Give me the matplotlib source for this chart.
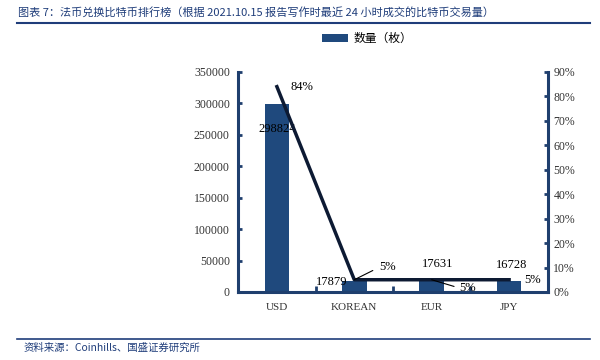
import matplotlib
matplotlib.use('Agg')
import matplotlib.pyplot as plt
import numpy as np

plt.rcParams['font.family'] = ['Liberation Serif', 'Noto Sans CJK SC', 'DejaVu Sans']

# data
categories = ['USD', 'KOREAN', 'EUR', 'JPY']
volumes = [298824, 17879, 17631, 16728]
shares = [84, 5, 5, 5]   # percent
vol_ticks = [0, 50000, 100000, 150000, 200000, 250000, 300000, 350000]
pct_ticks = [0, 10, 20, 30, 40, 50, 60, 70, 80, 90]

bar_color = '#1f497d'
axis_color = '#1f3f6e'
line_color = '#0d1a33'
title_color = '#1f3d7a'

fig = plt.figure(figsize=(6, 3.6), dpi=100)
ax = fig.add_axes([0.397, 0.189, 0.516, 0.611])
ax2 = ax.twinx()

x = np.arange(len(categories))
bars = ax.bar(x, volumes, width=0.32, color=bar_color, label='数量（枚）', zorder=2)
ax2.plot(x, shares, color=line_color, lw=2.5, zorder=3)

ax.set_xlim(-0.5, len(categories) - 0.5)
ax.set_ylim(0, 350000)
ax2.set_ylim(0, 90)
ax.set_yticks(vol_ticks)
ax.set_yticklabels([str(v) for v in vol_ticks])
ax2.set_yticks(pct_ticks)
ax2.set_yticklabels([f'{p}%' for p in pct_ticks])

ax.set_xticks(x)
ax.set_xticklabels(categories)
ax.set_xticks(x[:-1] + 0.5, minor=True)
ax.tick_params(axis='x', which='major', length=0, pad=8, labelsize=8, labelcolor='#333333')
ax.tick_params(axis='x', which='minor', direction='in', length=4, width=2, color=axis_color)
ax.tick_params(axis='y', direction='in', length=3, width=2, color=axis_color, labelsize=8.5, labelcolor='#333333', pad=6)
ax2.tick_params(axis='y', direction='in', length=3, width=2, color=axis_color, labelsize=8.5, labelcolor='#333333', pad=4)

for a in (ax, ax2):
    a.spines['top'].set_visible(False)
    for side in ('left', 'right', 'bottom'):
        a.spines[side].set_color(axis_color)
        a.spines[side].set_linewidth(2.2)
ax.spines['right'].set_visible(False)
ax2.spines['left'].set_visible(False)
ax2.spines['bottom'].set_visible(False)

# value labels on bars
ax.annotate(str(volumes[0]), (x[0], volumes[0]), xytext=(0, -18), textcoords='offset points',
            ha='center', va='center', fontsize=9, zorder=5)
ax.annotate(str(volumes[1]), (x[1], volumes[1]), xytext=(-16, -1), textcoords='offset points',
            ha='center', va='center', fontsize=9)
ax.annotate(str(volumes[2]), (x[2], volumes[2]), xytext=(4, 12), textcoords='offset points',
            ha='center', va='center', fontsize=9)
ax.annotate(str(volumes[3]), (x[3], volumes[3]), xytext=(2, 12), textcoords='offset points',
            ha='center', va='center', fontsize=9)

# percent labels on line, two of them with leader lines
ax2.annotate(f'{shares[0]}%', (x[0], shares[0]), xytext=(18, 0), textcoords='offset points',
             ha='center', va='center', fontsize=9)
ax2.annotate(f'{shares[1]}%', (x[1], shares[1]), xytext=(24, 9), textcoords='offset points',
             ha='center', va='center', fontsize=9,
             arrowprops=dict(arrowstyle='-', color='black', lw=0.8, shrinkA=3, shrinkB=0,
                             relpos=(0, 0.5)))
ax2.annotate(f'{shares[2]}%', (x[2], shares[2]), xytext=(26, -6), textcoords='offset points',
             ha='center', va='center', fontsize=9,
             arrowprops=dict(arrowstyle='-', color='black', lw=0.8, shrinkA=2, shrinkB=0,
                             relpos=(0, 0.5)))
ax2.annotate(f'{shares[3]}%', (x[3], shares[3]), xytext=(17, 0), textcoords='offset points',
             ha='center', va='center', fontsize=9)

fig.legend(handles=[bars], labels=['数量（枚）'], loc='center', bbox_to_anchor=(0.612, 0.893),
           frameon=False, handlelength=2.2, handleheight=0.6, handletextpad=0.4,
           prop={'family': ['Noto Sans CJK SC'], 'size': 8.5})

# title and source with rules
fig.text(0.03, 0.965, '图表 7：法币兑换比特币排行榜（根据 2021.10.15 报告写作时最近 24 小时成交的比特币交易量）',
         fontsize=8, style='italic', color=title_color, va='center',
         family=['Noto Sans CJK SC', 'DejaVu Sans'])
fig.add_artist(plt.Line2D([0.028, 0.983], [0.937, 0.937], color=title_color, lw=1.5))
fig.add_artist(plt.Line2D([0.028, 0.983], [0.058, 0.058], color=title_color, lw=1.2))
fig.text(0.04, 0.035, '资料来源：Coinhills、国盛证券研究所', fontsize=7.5, style='italic',
         color=title_color, va='center', family=['Noto Sans CJK SC', 'DejaVu Sans'])

fig.savefig('out.png', dpi=100)
